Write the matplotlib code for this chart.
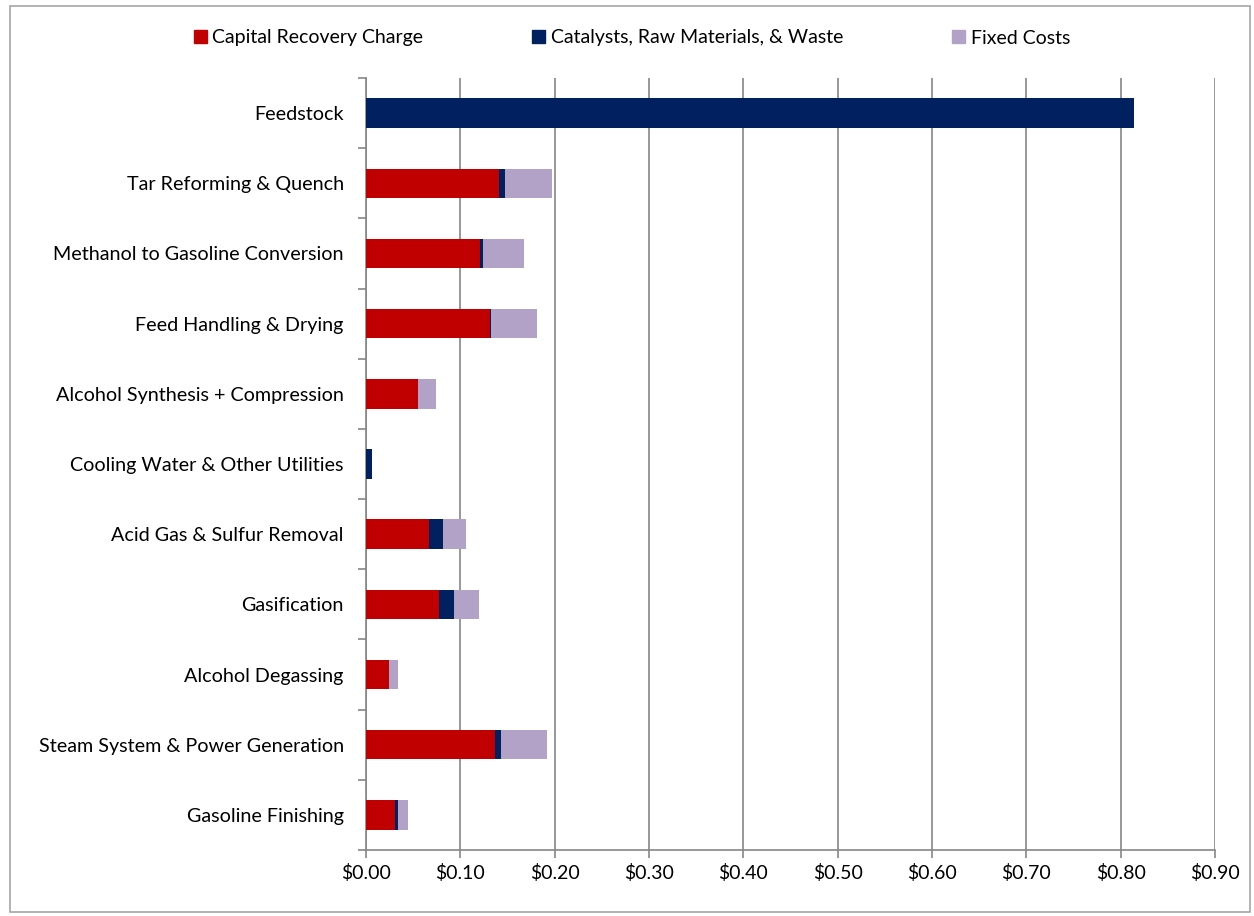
import matplotlib.pyplot as plt
import matplotlib.ticker as mticker
from matplotlib.patches import Rectangle, Patch

plt.rcParams['font.family'] = ['Lato', 'DejaVu Sans']

# top to bottom as shown
areas = ['Feedstock', 'Tar Reforming & Quench', 'Methanol to Gasoline Conversion',
         'Feed Handling & Drying', 'Alcohol Synthesis + Compression',
         'Cooling Water & Other Utilities', 'Acid Gas & Sulfur Removal',
         'Gasification', 'Alcohol Degassing', 'Steam System & Power Generation',
         'Gasoline Finishing']
capital = [0.0, 0.141, 0.121, 0.131, 0.055, 0.0, 0.067, 0.077, 0.024, 0.137, 0.031]
catalysts = [0.814, 0.006, 0.003, 0.002, 0.0, 0.006, 0.015, 0.016, 0.0, 0.006, 0.003]
fixed = [0.0, 0.050, 0.044, 0.048, 0.019, 0.0, 0.024, 0.027, 0.010, 0.049, 0.011]

series_names = ['Capital Recovery Charge', 'Catalysts, Raw Materials, & Waste', 'Fixed Costs']
colors = ['#C00000', '#002060', '#B3A2C7']
x_ticks = [0.0, 0.1, 0.2, 0.3, 0.4, 0.5, 0.6, 0.7, 0.8, 0.9]

fig = plt.figure(figsize=(12.54, 9.16), dpi=100)
ax = fig.add_axes([366 / 1254, 1 - 850 / 916, (1215 - 366) / 1254, (850 - 78) / 916])

# chart frame
fig.patches.append(Rectangle((10 / 1254, 4 / 916), 1240 / 1254, 906 / 916,
                             transform=fig.transFigure, fill=False,
                             edgecolor='#A6A6A6', linewidth=1.2))

y = list(range(len(areas)))
left = [0.0] * len(areas)
for vals, c in zip([capital, catalysts, fixed], colors):
    ax.barh(y, vals, left=left, height=0.42, color=c, zorder=3)
    left = [l + v for l, v in zip(left, vals)]

ax.set_ylim(len(areas) - 0.5, -0.5)
ax.set_yticks(y)
ax.set_yticklabels(areas, fontsize=14.2)
ax.set_yticks([i + 0.5 for i in range(-1, len(areas))], minor=True)
ax.tick_params(axis='y', which='major', length=0, pad=16)
ax.tick_params(axis='y', which='minor', length=6, color='#868686', width=1.2)

ax.set_xlim(0, 0.9)
ax.set_xticks(x_ticks)
ax.xaxis.set_major_formatter(mticker.FuncFormatter(lambda v, p: '${:.2f}'.format(v)))
ax.tick_params(axis='x', labelsize=14, length=6, color='#868686', width=1.2, pad=4)
ax.grid(axis='x', color='#868686', linewidth=1.2, zorder=0)

for s in ['top', 'right']:
    ax.spines[s].set_visible(False)
for s in ['left', 'bottom']:
    ax.spines[s].set_color('#868686')
    ax.spines[s].set_linewidth(1.2)

handles = [Patch(color=c) for c in colors]
fig.legend(handles, series_names, loc='center', bbox_to_anchor=(0.5 + 5 / 1254, 1 - 38 / 916),
           ncol=3, frameon=False, fontsize=14, handlelength=0.65, handleheight=0.65,
           handletextpad=0.3, columnspacing=5.6)

fig.savefig('out.png', dpi=100)
